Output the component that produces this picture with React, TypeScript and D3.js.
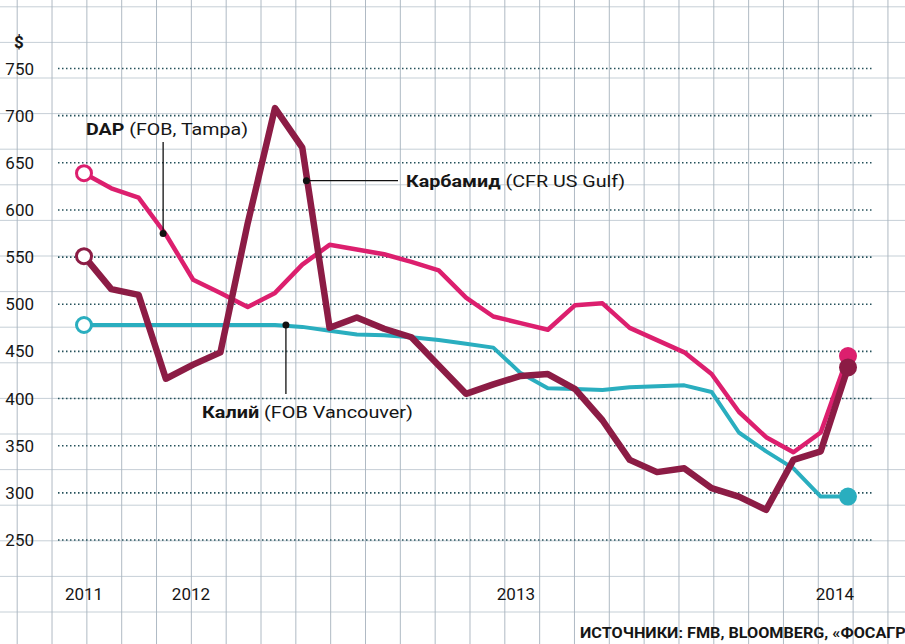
import React from 'react';
import * as d3 from 'd3';

// monthly-ish points (USD per tonne)
const dap = [639, 623, 613, 574, 526, 512, 497, 512, 542, 563, 558, 553, 545, 536, 507, 487, 480, 473, 499, 501, 475, 462, 449, 426, 386, 359, 343, 364, 445];
const carbamide = [551, 516, 510, 421, 436, 449, 586, 708, 666, 475, 486, 474, 465, 435, 405, 415, 424, 426, 410, 377, 335, 322, 326, 305, 296, 282, 335, 344, 433];
const potash = [478, 478, 478, 478, 478, 478, 478, 478, 476, 472, 468, 467, 465, 462, 458, 454, 427, 411, 410, 409, 412, 413, 414, 407, 364, 344, 326, 296, 296];

const yTicks = [250, 300, 350, 400, 450, 500, 550, 600, 650, 700, 750];
const yearLabels = ['2011', '2012', '2013', '2014'];
const yearAt = [0, 3.92, 15.83, 27.52];

const W = 905;
const H = 644;
const FONT = 'Roboto, "DejaVu Sans", sans-serif';

const App = () => {
  const x = d3.scaleLinear().domain([0, dap.length - 1]).range([84, 848]);
  const y = d3.scaleLinear().domain([250, 750]).range([540, 68.5]);

  const line = d3.line<number>()
    .x((d, i) => x(i))
    .y(d => y(d));

  // paper grid behind everything
  const vGrid = d3.range(0, 27).map(k => 17.2 + 34.83 * k);
  const hGrid = d3.range(0, 19).map(k => 6.8 + 35.6 * k);

  const series = [
    { values: potash, color: '#2aaebf', width: 4 },
    { values: dap, color: '#dc1f6e', width: 4.5 },
    { values: carbamide, color: '#8c1c45', width: 6.5 },
  ];

  const dapDot = [x(2.9), y(575)];
  const carbDot = [x(8.15), y(631)];
  const potDot = [x(7.4), y(478)];

  return (
    <svg width={W} height={H} style={{ position: 'absolute', left: 0, top: 0, background: '#fff' }}
      fontFamily={FONT}>
      <rect width={W} height={H} fill="#fff" />

      {vGrid.map(v => (
        <line key={'v' + v} x1={v} x2={v} y1={0} y2={H} stroke="#8f9eac" strokeWidth={1} opacity={0.7} />
      ))}
      {hGrid.map(v => (
        <line key={'h' + v} x1={0} x2={W} y1={v} y2={v} stroke="#a9b7c2" strokeWidth={1} opacity={0.65} />
      ))}

      {yTicks.map(t => (
        <g key={t}>
          <line x1={58} x2={872} y1={y(t)} y2={y(t)} stroke="#24505a"
            strokeWidth={1.6} strokeDasharray="1.5 2.5" />
          <text x={34} y={y(t) + 6} textAnchor="end" fontSize={17} fill="#161616">{t}</text>
        </g>
      ))}
      <text x={19} y={48} textAnchor="middle" fontSize={17} fontWeight="bold" fill="#161616">$</text>

      {yearLabels.map((l, i) => (
        <text key={l} x={x(yearAt[i])} y={600} textAnchor="middle" fontSize={17}
          fill="#161616">{l}</text>
      ))}

      {series.map((s, i) => (
        <path key={i} d={line(s.values) || ''} fill="none" stroke={s.color}
          strokeWidth={s.width} strokeLinejoin="round" strokeLinecap="round" />
      ))}

      {series.map((s, i) => (
        <g key={'c' + i}>
          <circle cx={x(0)} cy={y(s.values[0])} r={7.5} fill="#fff" stroke={s.color} strokeWidth={3} />
          <circle cx={x(s.values.length - 1)} cy={y(s.values[s.values.length - 1])} r={9} fill={s.color} />
        </g>
      ))}

      {/* annotations */}
      <line x1={dapDot[0]} x2={dapDot[0]} y1={142} y2={dapDot[1]} stroke="#111" strokeWidth={1.3} />
      <circle cx={dapDot[0]} cy={dapDot[1]} r={3.5} fill="#111" />
      <text x={86} y={135} fontSize={17} fill="#161616" textLength={162} lengthAdjust="spacingAndGlyphs">
        <tspan fontWeight="bold">DAP</tspan> (FOB, Tampa)
      </text>

      <line x1={carbDot[0]} x2={398} y1={carbDot[1]} y2={carbDot[1]} stroke="#111" strokeWidth={1.3} />
      <circle cx={carbDot[0]} cy={carbDot[1]} r={3.5} fill="#111" />
      <text x={406} y={187} fontSize={17} fill="#161616" textLength={219} lengthAdjust="spacingAndGlyphs">
        <tspan fontWeight="bold">Карбамид</tspan> (CFR US Gulf)
      </text>

      <line x1={potDot[0]} x2={potDot[0]} y1={potDot[1]} y2={394} stroke="#111" strokeWidth={1.3} />
      <circle cx={potDot[0]} cy={potDot[1]} r={3.5} fill="#111" />
      <text x={202} y={418} fontSize={17} fill="#161616" textLength={211} lengthAdjust="spacingAndGlyphs">
        <tspan fontWeight="bold">Калий</tspan> (FOB Vancouver)
      </text>

      <text x={580} y={638} fontSize={15} fill="#161616" fontWeight="bold"
        textLength={345} lengthAdjust="spacingAndGlyphs">
        ИСТОЧНИКИ: FMB, BLOOMBERG, «ФОСАГРО»
      </text>
    </svg>
  );
};

export default App;
